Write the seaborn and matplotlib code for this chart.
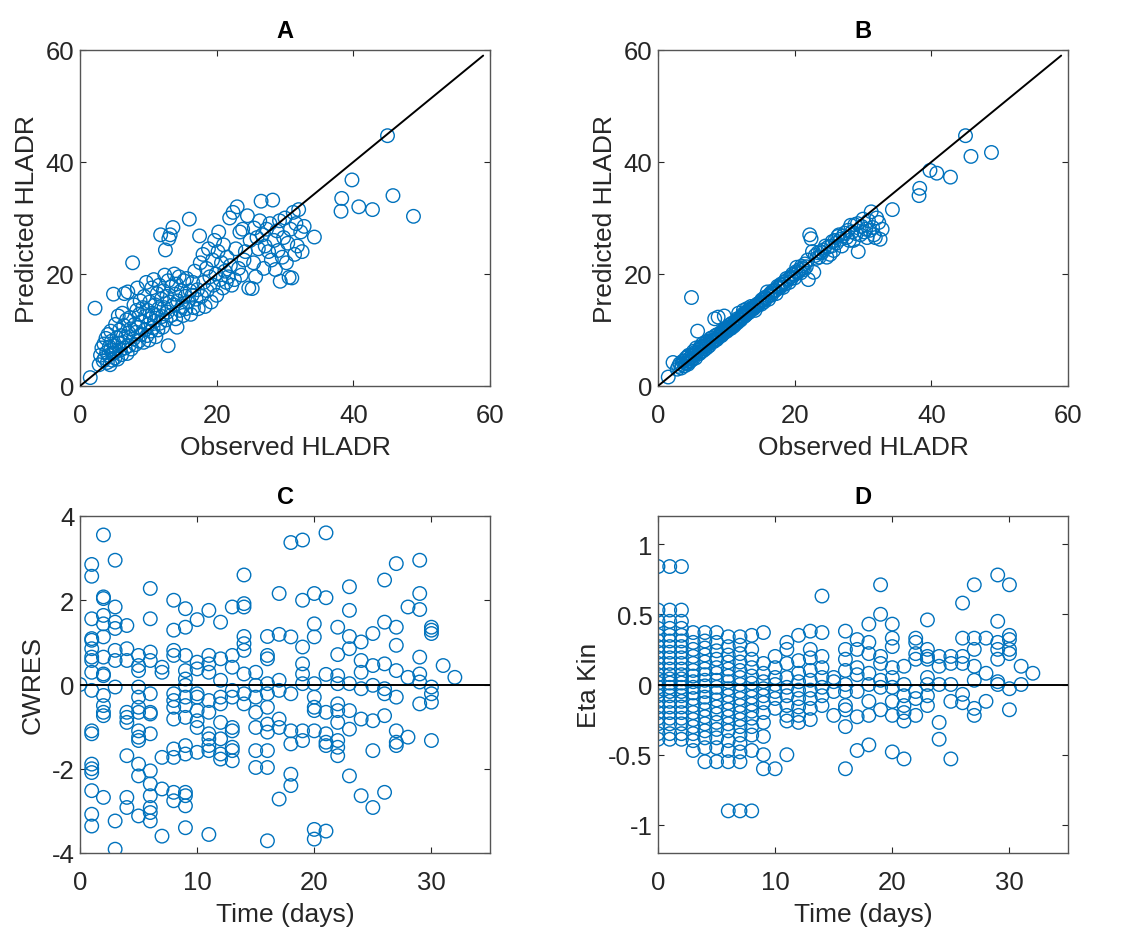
import matplotlib
matplotlib.use("Agg")
import matplotlib.pyplot as plt
import seaborn as sns
import pandas as pd

# ---------------- data ----------------
# Panels A/B: observed HLADR, predicted (population, A) and predicted (individual, B)
observed = [1.5, 2.2, 2.8, 3.0, 3.2, 3.4, 3.5, 3.6, 3.8, 3.9, 4.0, 4.1, 4.2, 4.3, 4.4, 4.5, 4.5, 4.6, 4.7, 4.8,
            4.9, 5.0, 5.1, 5.2, 5.3, 5.4, 5.5, 5.6, 5.7, 5.8, 5.9, 6.0, 6.1, 6.2, 6.3, 6.4, 6.5, 6.6, 6.7, 6.8,
            6.9, 7.0, 7.1, 7.2, 7.3, 7.4, 7.5, 7.7, 7.8, 7.9, 8.0, 8.1, 8.2, 8.3, 8.4, 8.5, 8.6, 8.7, 8.8, 8.9,
            9.0, 9.2, 9.3, 9.4, 9.5, 9.6, 9.7, 9.8, 9.9, 10.0, 10.1, 10.2, 10.3, 10.4, 10.5, 10.6, 10.7, 10.8, 10.9, 11.0,
            11.1, 11.2, 11.3, 11.4, 11.5, 11.6, 11.7, 11.8, 11.9, 12.0, 12.1, 12.2, 12.3, 12.4, 12.5, 12.6, 12.7, 12.8, 12.9, 13.0,
            13.1, 13.2, 13.3, 13.4, 12.9, 13.6, 13.7, 13.8, 13.9, 14.0, 14.1, 14.2, 14.3, 14.5, 14.6, 14.8, 15.0, 15.1, 15.2, 15.4,
            15.5, 15.6, 15.8, 16.0, 16.1, 16.2, 16.4, 16.5, 16.6, 16.8, 17.0, 17.2, 17.3, 17.5, 17.6, 17.8, 18.0, 18.1, 18.3, 18.5,
            18.6, 18.8, 19.0, 19.2, 19.4, 19.5, 19.7, 19.9, 20.0, 20.2, 20.3, 20.5, 20.7, 20.9, 21.0, 21.2, 21.4, 21.5, 21.7, 21.9,
            22.0, 22.2, 22.4, 22.6, 22.8, 23.0, 23.2, 23.4, 23.6, 23.8, 24.0, 24.2, 24.5, 24.7, 24.9, 25.2, 25.4, 25.5, 25.7, 25.9,
            26.1, 26.3, 26.5, 26.7, 26.9, 27.1, 27.3, 27.6, 27.8, 28.0, 28.2, 28.4, 28.6, 28.8, 29.0, 29.2, 29.3, 29.6, 29.8, 30.0,
            30.2, 30.4, 30.6, 30.8, 31.0, 31.2, 31.4, 31.6, 31.8, 32.0, 32.3, 32.5, 32.8, 34.3, 38.2, 38.3, 39.8, 40.8, 42.8, 45.0,
            45.8, 48.8]
predicted_pop = [1.5, 13.9, 3.8, 5.5, 6.8, 4.5, 7.5, 5.0, 8.5, 6.0, 4.2, 9.2, 5.5, 7.0, 3.8, 9.8, 6.5, 8.0, 4.6, 5.8,
                 16.4, 7.2, 5.0, 11.0, 6.2, 8.6, 4.8, 12.5, 7.6, 10.0, 6.4, 9.0, 5.6, 13.0, 7.8, 10.8, 16.5, 6.8, 8.8, 11.8,
                 5.8, 16.8, 9.5, 7.2, 12.2, 10.2, 6.6, 22.0, 8.4, 14.5, 11.0, 7.4, 9.6, 13.5, 17.5, 10.5, 8.0, 12.8, 15.2, 9.2,
                 11.5, 14.0, 7.8, 16.0, 10.0, 12.5, 18.5, 9.0, 13.5, 11.0, 8.2, 15.0, 12.0, 9.8, 17.5, 13.0, 10.4, 19.0, 11.6, 14.5,
                 8.8, 12.6, 16.5, 10.0, 13.8, 18.0, 11.2, 27.0, 15.5, 12.4, 10.5, 17.0, 14.0, 19.8, 24.3, 11.8, 16.0, 13.2, 18.8, 26.3,
                 15.0, 27.0, 12.6, 17.8, 7.2, 28.3, 14.5, 20.0, 16.4, 12.0, 18.2, 10.5, 15.2, 19.5, 13.5, 17.0, 14.2, 12.6, 18.8, 16.0,
                 13.8, 19.2, 15.0, 29.8, 17.0, 12.8, 16.2, 18.5, 14.0, 20.5, 15.5, 17.2, 13.8, 26.8, 22.0, 16.0, 23.5, 18.5, 14.2, 21.0,
                 17.0, 24.5, 19.5, 15.0, 22.5, 18.0, 26.0, 20.0, 16.2, 24.0, 27.5, 19.0, 22.0, 17.5, 25.2, 20.5, 18.5, 23.0, 19.5, 30.0,
                 21.5, 18.0, 31.0, 19.0, 24.5, 32.0, 21.0, 27.5, 19.8, 28.0, 22.5, 24.0, 30.4, 17.5, 26.0, 17.4, 22.0, 28.2, 19.5, 26.5,
                 24.5, 29.5, 33.0, 27.0, 21.0, 25.0, 28.0, 24.0, 29.0, 22.5, 33.2, 26.0, 20.8, 27.7, 24.2, 29.5, 18.7, 23.0, 26.5, 30.0,
                 22.0, 25.5, 19.4, 28.0, 19.3, 31.0, 23.5, 29.0, 25.0, 31.5, 27.5, 24.0, 28.5, 26.6, 31.2, 33.5, 36.8, 32.0, 31.5, 44.7,
                 34.0, 30.3]
predicted_ind = [1.6, 4.2, 3.0, 3.5, 4.0, 3.2, 3.8, 4.4, 4.5, 3.6, 4.1, 5.0, 4.0, 5.2, 3.9, 5.5, 4.8, 4.3, 5.0, 4.5,
                 15.8, 5.6, 4.8, 6.2, 5.5, 6.0, 5.0, 6.8, 5.9, 9.8, 5.7, 6.5, 5.8, 7.0, 6.1, 6.9, 7.5, 6.3, 7.2, 7.0,
                 6.6, 7.8, 7.3, 6.9, 8.0, 7.6, 7.2, 8.5, 7.8, 8.6, 8.2, 7.9, 8.0, 12.0, 9.0, 8.4, 8.3, 9.2, 12.3, 8.7,
                 9.1, 9.5, 9.0, 9.8, 9.3, 9.9, 12.5, 9.6, 10.2, 10.0, 9.8, 10.5, 10.1, 10.2, 10.9, 10.5, 10.3, 11.2, 10.8, 11.0,
                 10.7, 11.3, 11.5, 11.1, 11.6, 12.0, 11.4, 13.0, 11.9, 12.1, 11.8, 12.4, 12.2, 12.8, 13.5, 12.4, 12.9, 12.6, 13.2, 13.8,
                 13.0, 13.5, 13.1, 13.6, 12.8, 14.2, 13.6, 14.0, 13.9, 13.8, 14.2, 13.5, 14.3, 14.6, 14.4, 14.8, 15.0, 14.6, 15.4, 15.3,
                 15.0, 15.8, 15.6, 16.8, 16.1, 15.5, 16.3, 16.6, 16.2, 17.0, 16.9, 17.1, 16.5, 17.8, 17.6, 17.5, 18.2, 18.0, 17.6, 18.6,
                 18.2, 19.2, 19.0, 18.5, 19.5, 19.2, 20.0, 19.8, 19.3, 20.4, 21.2, 20.3, 20.8, 20.2, 21.4, 21.0, 20.8, 21.8, 21.3, 22.5,
                 19.0, 27.0, 26.3, 24.0, 20.3, 23.3, 22.8, 23.8, 23.0, 24.0, 23.8, 24.3, 25.0, 23.0, 24.8, 23.5, 25.0, 25.8, 24.2, 26.0,
                 25.5, 26.7, 27.0, 26.2, 25.0, 26.8, 27.3, 26.5, 27.8, 26.0, 28.7, 27.5, 26.0, 28.8, 27.2, 29.0, 24.0, 27.0, 28.5, 29.8,
                 27.5, 28.0, 26.5, 29.5, 27.8, 31.1, 28.3, 27.0, 26.5, 30.0, 29.2, 26.2, 28.0, 31.5, 34.0, 35.3, 38.5, 38.0, 37.3, 44.7,
                 41.0, 41.7]

# Panel C: CWRES by time (days)
c_days = list(range(0, 33))
c_cwres = [
    [0.0],
    [2.85, 2.57, 1.56, 1.09, 1.05, 0.85, 0.65, 0.57, 0.29, -0.14, -1.10, -1.17, -1.89, -2.00, -2.09, -2.52, -3.08, -3.36],
    [3.55, 2.08, 2.04, 1.64, 1.44, 1.13, 0.65, 0.25, 0.21, -0.26, -0.50, -0.66, -0.74, -2.68],
    [2.95, 1.84, 1.48, 1.33, 0.81, 0.57, -0.06, -3.24, -3.91],
    [1.40, 0.85, 0.57, -0.66, -0.78, -0.90, -1.69, -2.68, -2.92],
    [0.69, 0.45, 0.33, -0.06, -0.30, -0.54, -0.66, -1.10, -1.25, -1.33, -1.89, -2.17, -3.12],
    [2.28, 1.56, 0.77, 0.57, -0.22, -0.66, -0.70, -1.17, -2.05, -2.36, -2.64, -2.92, -3.04, -3.24],
    [0.41, 0.29, -1.73, -2.48, -3.60],
    [2.00, 1.29, 0.81, 0.69, -0.22, -0.38, -0.54, -0.82, -1.53, -1.73, -2.56, -2.76],
    [1.80, 1.36, 0.69, 0.33, 0.13, -0.02, -0.30, -0.50, -0.78, -1.45, -1.65, -2.56, -2.64, -2.88, -3.40],
    [1.54, 0.53, 0.37, -0.22, -0.30, -0.62, -0.86, -1.02, -1.61],
    [1.76, 0.69, 0.49, 0.29, -0.38, -0.66, -1.17, -1.29, -1.45, -1.57, -3.56],
    [1.48, 0.61, 0.10, -0.30, -0.46, -0.90, -1.29, -1.65, -1.77],
    [1.84, 0.69, 0.41, -0.14, -0.30, -1.02, -1.10, -1.49, -1.57, -1.81],
    [2.60, 1.92, 1.84, 1.14, 0.97, 0.81, 0.25, -0.22, -0.46],
    [0.29, -0.02, -0.30, -0.66, -1.02, -1.57, -1.97],
    [1.14, 0.69, 0.61, 0.02, -0.22, -0.54, -0.94, -1.13, -1.57, -1.97, -3.71],
    [2.16, 1.19, 0.10, -0.14, -0.82, -1.02, -2.72],
    [3.37, 1.13, -0.22, -1.10, -1.41, -2.13, -2.40],
    [3.43, 2.00, 0.89, 0.49, 0.25, 0.02, -1.10, -1.33],
    [2.16, 1.44, 1.13, 0.02, -0.30, -0.54, -0.62, -1.10, -3.44, -3.67],
    [3.60, 2.06, 0.24, -0.66, -1.17, -1.37, -1.45, -3.48],
    [1.36, 0.71, 0.21, 0.02, -0.46, -0.62, -0.90, -1.33, -1.49, -1.69],
    [2.32, 1.76, 1.14, 0.85, 0.02, -0.62, -1.06, -2.17],
    [1.01, 0.57, 0.29, -0.10, -0.82, -2.64],
    [1.21, 0.45, -0.02, -0.86, -1.57, -2.92],
    [2.48, 1.48, 0.49, -0.10, -0.22, -0.74, -2.56],
    [2.87, 1.36, 0.93, 0.33, -0.30, -1.10, -1.37, -1.45],
    [1.84, 0.17, -1.25],
    [2.95, 2.16, 1.78, 0.65, 0.25, 0.06, -0.46],
    [1.36, 1.29, 1.21, -0.06, -0.22, -0.42, -1.33],
    [0.45],
    [0.17],
]

# Panel D: Eta Kin by time (days)
d_days = list(range(0, 33))
d_eta = [
    [0.84, 0.53, 0.45, 0.40, 0.35, 0.31, 0.27, 0.23, 0.19, 0.15, 0.11, 0.07, 0.04, 0.01, -0.02, -0.05, -0.08, -0.12, -0.16, -0.20, -0.24, -0.28, -0.35, -0.39],
    [0.84, 0.53, 0.45, 0.40, 0.35, 0.31, 0.27, 0.23, 0.19, 0.15, 0.11, 0.07, 0.04, 0.01, -0.02, -0.05, -0.08, -0.12, -0.16, -0.20, -0.24, -0.28, -0.35, -0.39],
    [0.84, 0.53, 0.45, 0.40, 0.35, 0.31, 0.27, 0.23, 0.19, 0.15, 0.11, 0.07, 0.04, 0.01, -0.02, -0.05, -0.08, -0.12, -0.16, -0.20, -0.24, -0.28, -0.35, -0.39],
    [0.37, 0.30, 0.25, 0.20, 0.15, 0.10, 0.06, 0.02, -0.02, -0.06, -0.10, -0.15, -0.20, -0.25, -0.30, -0.35, -0.40, -0.47],
    [0.37, 0.31, 0.26, 0.21, 0.16, 0.11, 0.07, 0.03, -0.01, -0.05, -0.09, -0.13, -0.18, -0.23, -0.28, -0.33, -0.38, -0.45, -0.55],
    [0.37, 0.30, 0.24, 0.18, 0.12, 0.08, 0.03, -0.02, -0.06, -0.11, -0.16, -0.21, -0.27, -0.32, -0.38, -0.45, -0.55],
    [0.34, 0.27, 0.21, 0.16, 0.11, 0.06, 0.02, -0.03, -0.08, -0.13, -0.18, -0.23, -0.28, -0.33, -0.40, -0.47, -0.55, -0.90],
    [0.34, 0.28, 0.22, 0.16, 0.10, 0.05, 0.00, -0.05, -0.10, -0.15, -0.20, -0.25, -0.30, -0.36, -0.42, -0.48, -0.55, -0.90],
    [0.35, 0.25, 0.18, 0.12, 0.06, 0.01, -0.04, -0.09, -0.14, -0.19, -0.24, -0.30, -0.36, -0.47, -0.90],
    [0.37, 0.15, 0.08, 0.02, -0.03, -0.08, -0.13, -0.20, -0.27, -0.37, -0.50, -0.60],
    [0.20, 0.12, 0.05, 0.00, -0.05, -0.10, -0.17, -0.60],
    [0.30, 0.25, 0.15, 0.05, -0.02, -0.08, -0.15, -0.22, -0.26, -0.50],
    [0.35, 0.17, 0.08, 0.02, -0.04, -0.10, -0.16, -0.22, -0.27],
    [0.38, 0.25, 0.19, 0.10, 0.03, -0.04, -0.10, -0.17, -0.25],
    [0.63, 0.37, 0.20, 0.12, 0.05, -0.02, -0.08, -0.15],
    [0.05, 0.02, -0.05, -0.22],
    [0.38, 0.25, 0.18, 0.10, 0.00, -0.05, -0.15, -0.18, -0.30, -0.60],
    [0.32, 0.25, 0.12, 0.07, -0.05, -0.23, -0.47],
    [0.43, 0.30, 0.22, 0.08, 0.00, -0.12, -0.22, -0.43],
    [0.71, 0.50, 0.20, 0.15, 0.03, -0.02, -0.18],
    [0.43, 0.33, 0.27, 0.12, 0.05, -0.02, -0.12, -0.22, -0.48],
    [0.13, 0.00, -0.08, -0.15, -0.20, -0.26, -0.53],
    [0.33, 0.30, 0.22, 0.18, -0.05, -0.10, -0.22],
    [0.46, 0.25, 0.20, 0.18, 0.05, 0.00, -0.08, -0.15],
    [0.20, 0.13, 0.00, -0.27, -0.39],
    [0.20, 0.15, 0.00, -0.12, -0.53],
    [0.58, 0.33, 0.20, 0.15, -0.07, -0.13],
    [0.71, 0.33, 0.25, 0.13, 0.03, -0.17, -0.22],
    [0.33, 0.08, -0.12],
    [0.78, 0.45, 0.30, 0.25, 0.18, 0.02, 0.00],
    [0.71, 0.35, 0.32, 0.25, 0.22, -0.03, -0.18],
    [0.13, 0.00],
    [0.08],
]

titles = ["A", "B", "C", "D"]

# ---------------- style ----------------
sns.set_theme(style="white")
plt.rcParams["font.family"] = ["Liberation Sans", "DejaVu Sans"]
plt.rcParams["axes.unicode_minus"] = False

BLUE = "#0072BD"
AXC = "#262626"

df_ab = pd.DataFrame({"obs": observed, "pop": predicted_pop, "ind": predicted_ind})
c_rows = [(d, v) for d, vals in zip(c_days, c_cwres) for v in vals]
df_c = pd.DataFrame(c_rows, columns=["time", "cwres"])
d_rows = [(d, v) for d, vals in zip(d_days, d_eta) for v in vals]
df_d = pd.DataFrame(d_rows, columns=["time", "eta"])

fig = plt.figure(figsize=(11.22, 9.29), dpi=100)
W, H = 1122, 929

def rect(l, t, r, b):
    return [l / W, 1 - b / H, (r - l) / W, (b - t) / H]

axA = fig.add_axes(rect(80, 51, 490, 387))
axB = fig.add_axes(rect(658, 51, 1068, 387))
axC = fig.add_axes(rect(80, 517, 490, 854))
axD = fig.add_axes(rect(658, 517, 1068, 854))

scat_kw = dict(s=95, marker="o", facecolor="none", edgecolor=BLUE, linewidth=1.0, legend=False)

sns.scatterplot(data=df_ab, x="obs", y="pop", ax=axA, **scat_kw)
sns.scatterplot(data=df_ab, x="obs", y="ind", ax=axB, **scat_kw)
sns.scatterplot(data=df_c, x="time", y="cwres", ax=axC, **scat_kw)
sns.scatterplot(data=df_d, x="time", y="eta", ax=axD, **scat_kw)

for ax in (axA, axB):
    ax.plot([0, 59], [0, 59], color="black", lw=1.4, zorder=3)
    ax.set_xlim(0, 60)
    ax.set_ylim(0, 60)
    ax.set_xticks([0, 20, 40, 60])
    ax.set_yticks([0, 20, 40, 60])
    ax.set_xlabel("Observed HLADR")
    ax.set_ylabel("Predicted HLADR")

axC.axhline(0, color="black", lw=1.4, zorder=3)
axC.set_xlim(0, 35)
axC.set_ylim(-4, 4)
axC.set_xticks([0, 10, 20, 30])
axC.set_yticks([-4, -2, 0, 2, 4])
axC.set_xlabel("Time (days)")
axC.set_ylabel("CWRES")

axD.axhline(0, color="black", lw=1.4, zorder=3)
axD.set_xlim(0, 35)
axD.set_ylim(-1.2, 1.2)
axD.set_xticks([0, 10, 20, 30])
axD.set_yticks([-1, -0.5, 0, 0.5, 1])
axD.set_yticklabels(["-1", "-0.5", "0", "0.5", "1"])
axD.set_xlabel("Time (days)")
axD.set_ylabel("Eta Kin")

for ax, t in zip((axA, axB, axC, axD), titles):
    ax.set_title(t, fontsize=17, fontweight="bold", color="black", pad=9)
    ax.xaxis.label.set_size(19)
    ax.yaxis.label.set_size(19)
    ax.xaxis.label.set_color(AXC)
    ax.yaxis.label.set_color(AXC)
    ax.xaxis.labelpad = 6
    ax.yaxis.labelpad = 5
    ax.tick_params(direction="in", length=4, width=0.8, colors=AXC, labelsize=18.5,
                   top=True, right=True, bottom=True, left=True)
    ax.tick_params(axis="x", pad=12)
    ax.tick_params(axis="y", pad=4)
    for sp in ax.spines.values():
        sp.set_visible(True)
        sp.set_color("#555555")
        sp.set_linewidth(1.0)
    ax.grid(False)
    ax.set_facecolor("white")

fig.savefig("out.png", dpi=100, facecolor="white")
